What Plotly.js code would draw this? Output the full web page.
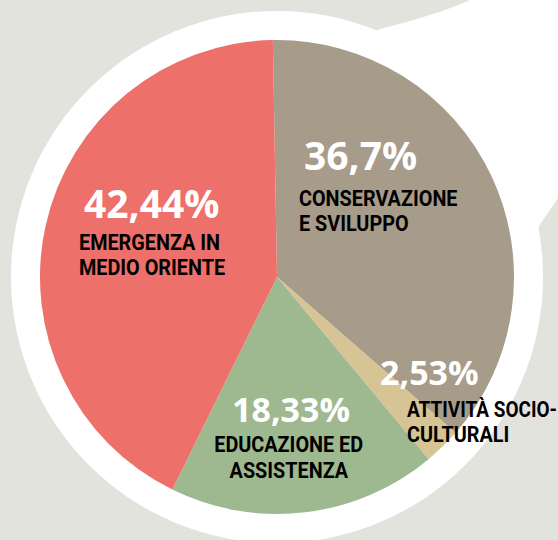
<!DOCTYPE html>
<html>
<head>
<meta charset="utf-8">
<script src="https://cdn.plot.ly/plotly-3.0.1.min.js"></script>
<style>html,body{margin:0;padding:0;background:#e3e3de;}#chart{width:558px;height:540px;}</style>
</head>
<body>
<div id="chart"></div>
<script>
// Data
const categories = ["CONSERVAZIONE E SVILUPPO", "ATTIVITÀ SOCIO-CULTURALI", "EDUCAZIONE ED ASSISTENZA", "EMERGENZA IN MEDIO ORIENTE"];
const values = [36.7, 2.53, 18.33, 42.44];
const valueLabels = ["36,7%", "2,53%", "18,33%", "42,44%"];
const labelLines = [["CONSERVAZIONE", "E SVILUPPO"], ["ATTIVITÀ SOCIO-", "CULTURALI"], ["EDUCAZIONE ED", "ASSISTENZA"], ["EMERGENZA IN", "MEDIO ORIENTE"]];
const colors = ["#a79b8a", "#d6c494", "#9eb890", "#ee706a"];

const W = 558, H = 540;
const px = x => x / W;
const py = y => 1 - y / H;

// Pie geometry (pixels)
const cx = 277, cy = 277, r = 237;

const trace = {
  type: "pie",
  labels: categories,
  values: values,
  sort: false,
  direction: "clockwise",
  rotation: -1,
  marker: {colors: colors, line: {width: 0}},
  textinfo: "none",
  hoverinfo: "none",
  showlegend: false,
  domain: {x: [px(cx - r), px(cx + r)], y: [py(cy + r), py(cy - r)]}
};

const place = [
  {vx: 302, vy: 154, vs: 39, lx: 297, ly: [199, 223], anchor: "left"},
  {vx: 378, vy: 372, vs: 34, lx: 405, ly: [409.5, 434.5], anchor: "left"},
  {vx: 230, vy: 408.5, vs: 34, lx: 289, ly: [444, 470], anchor: "center"},
  {vx: 82, vy: 202.5, vs: 39, lx: 77, ly: [242, 267.5], anchor: "left"}
];

const LABEL_FONT = "Roboto";
const SQUEEZE = 0.9;
const annotations = [];
place.forEach((p, i) => {
  annotations.push({
    xref: "paper", yref: "paper", x: px(p.vx), y: py(p.vy),
    xanchor: "left", yanchor: "middle", showarrow: false,
    text: valueLabels[i],
    font: {family: "Open Sans", size: p.vs, color: "#ffffff", weight: "bold"}
  });
  labelLines[i].forEach((t, j) => {
    annotations.push({
      xref: "paper", yref: "paper", x: px(p.lx), y: py(p.ly[j]),
      xanchor: p.anchor, yanchor: "middle", showarrow: false,
      text: t, name: p.anchor,
      font: {family: LABEL_FONT, size: 22, color: "#000000", weight: "bold"}
    });
  });
});

const R2 = 266;
function pathPx(cmds) {
  return cmds.map(c => c[0] + (c.length > 1 ? " " + c.slice(1).map((v, k) => (k % 2 === 0 ? px(v) : py(v)).toFixed(5)).join(" ") : "")).join(" ");
}

const shapes = [
  {type: "circle", xref: "paper", yref: "paper", layer: "below",
   x0: px(cx - R2), x1: px(cx + R2), y0: py(cy + R2), y1: py(cy - R2),
   fillcolor: "#ffffff", line: {width: 0}},
  {type: "path", xref: "paper", yref: "paper", layer: "below",
   path: pathPx([["M", 360, 40], ["L", 380, 29], ["Q", 440, 14, 470, 0], ["L", 560, 0], ["L", 560, 195], ["L", 539, 226], ["L", 536, 320], ["L", 420, 300], ["Z"]]),
   fillcolor: "#ffffff", line: {width: 0}}
];

const layout = {
  width: W, height: H,
  margin: {l: 0, r: 0, t: 0, b: 0},
  paper_bgcolor: "#e3e3de",
  plot_bgcolor: "#e3e3de",
  showlegend: false,
  shapes: shapes,
  annotations: annotations
};

Plotly.newPlot("chart", [trace], layout, {staticPlot: true, displayModeBar: false}).then(gd => {
  // condense the bold label lettering horizontally (the original uses a condensed typeface)
  const texts = gd.querySelectorAll("text.annotation-text");
  texts.forEach((el, idx) => {
    const ff = el.style.fontFamily || "";
    if (ff.indexOf(LABEL_FONT) < 0) return;
    const bb = el.getBBox();
    const len = el.getComputedTextLength();
    let newLen = len * SQUEEZE;
    const ctm = el.getScreenCTM();
    const anchorMode = el.closest("g.annotation") ? null : null;
    // left edge in page pixels
    const leftPx = ctm ? ctm.e + bb.x : bb.x;
    const isCenter = Math.abs((leftPx + len / 2) - 289) < 3;
    if (!isCenter && leftPx + newLen > W - 1) newLen = W - 1 - leftPx;
    el.setAttribute("textLength", newLen.toFixed(1));
    el.setAttribute("lengthAdjust", "spacingAndGlyphs");
    if (!isCenter) {
      const dx = -(len - newLen) / 2;
      const x0 = parseFloat(el.getAttribute("x") || "0");
      el.setAttribute("x", (x0 + dx).toFixed(2));
      el.querySelectorAll("tspan[x]").forEach(ts => {
        ts.setAttribute("x", (parseFloat(ts.getAttribute("x")) + dx).toFixed(2));
      });
    }
  });
});
</script>
</body>
</html>
